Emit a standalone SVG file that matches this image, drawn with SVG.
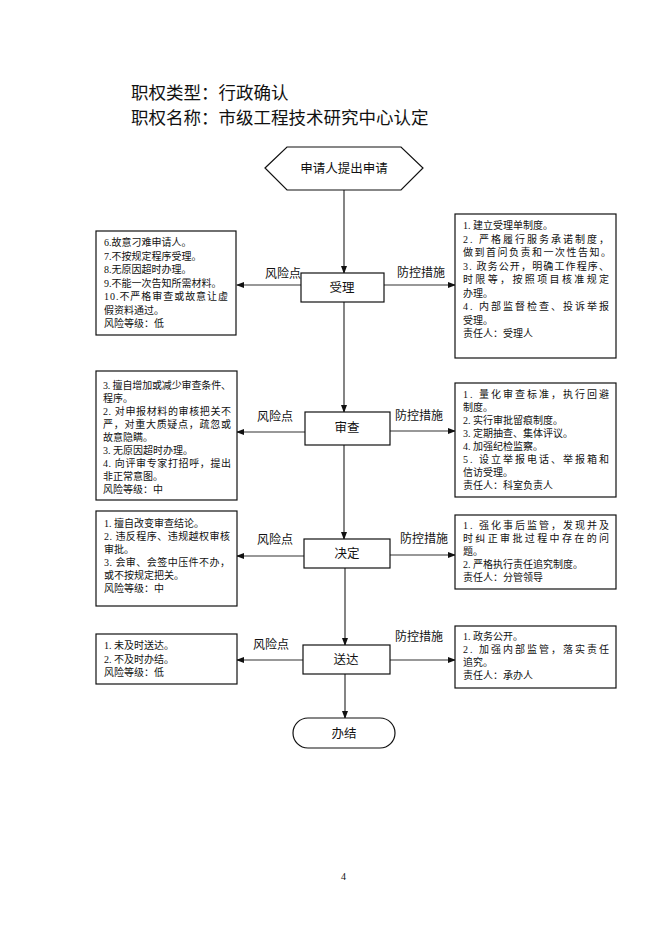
<svg xmlns="http://www.w3.org/2000/svg" width="662" height="936" viewBox="0 0 662 936">
<defs>
<marker id="ah" markerWidth="8" markerHeight="6" refX="7" refY="3" orient="auto" markerUnits="userSpaceOnUse">
<path d="M0,0 L8,3 L0,6 Z" fill="#111"/>
</marker>
<style>
.t{font-family:"Liberation Serif","Noto Sans CJK SC",serif;fill:#111}
.title{font-size:17.5px}
.lbl{font-size:12px}
.node{font-size:12.5px;text-anchor:middle}
.bx{font-size:10px}
.shape{fill:#fff;stroke:#111;stroke-width:1.2}
.ln{stroke:#333;stroke-width:1.2;fill:none}
</style>
</defs>
<rect width="662" height="936" fill="#fff"/>
<text class="t title" x="131" y="99">职权类型：行政确认</text>
<text class="t title" x="131" y="124">职权名称：市级工程技术研究中心认定</text>

<g id="connectors">
<line class="ln" x1="344" y1="190" x2="344" y2="273" marker-end="url(#ah)"/>
<line class="ln" x1="301" y1="285" x2="237" y2="285" marker-end="url(#ah)"/>
<line class="ln" x1="384" y1="285" x2="455" y2="285" marker-end="url(#ah)"/>
<line class="ln" x1="344" y1="302" x2="344" y2="412" marker-end="url(#ah)"/>
<line class="ln" x1="305" y1="432" x2="237" y2="432" marker-end="url(#ah)"/>
<line class="ln" x1="390" y1="431" x2="455" y2="431" marker-end="url(#ah)"/>
<line class="ln" x1="344" y1="445" x2="344" y2="539" marker-end="url(#ah)"/>
<line class="ln" x1="304" y1="556" x2="237" y2="556" marker-end="url(#ah)"/>
<line class="ln" x1="390" y1="555" x2="455" y2="555" marker-end="url(#ah)"/>
<line class="ln" x1="345" y1="568" x2="345" y2="645" marker-end="url(#ah)"/>
<line class="ln" x1="303" y1="660" x2="237" y2="660" marker-end="url(#ah)"/>
<line class="ln" x1="390" y1="660" x2="455" y2="660" marker-end="url(#ah)"/>
<line class="ln" x1="345" y1="674" x2="345" y2="718" marker-end="url(#ah)"/>
<text class="t lbl" x="265" y="278">风险点</text>
<text class="t lbl" x="397" y="277">防控措施</text>
<text class="t lbl" x="257" y="421">风险点</text>
<text class="t lbl" x="395" y="420">防控措施</text>
<text class="t lbl" x="257" y="544">风险点</text>
<text class="t lbl" x="400" y="543">防控措施</text>
<text class="t lbl" x="253" y="649">风险点</text>
<text class="t lbl" x="395" y="641">防控措施</text>
</g>

<g id="start">
<polygon class="shape" points="265,168 287,147 401,147 423,168 401,190 287,190"/>
<text class="t node" x="344" y="173">申请人提出申请</text>
</g>

<g id="accept">
<rect class="shape" x="301" y="273" width="83" height="29"/>
<text class="t node" x="342" y="292">受理</text>
</g>
<g id="review">
<rect class="shape" x="305" y="412" width="85" height="33"/>
<text class="t node" x="347" y="432">审查</text>
</g>
<g id="decide">
<rect class="shape" x="304" y="539" width="86" height="29"/>
<text class="t node" x="347" y="558">决定</text>
</g>
<g id="deliver">
<rect class="shape" x="303" y="645" width="87" height="29"/>
<text class="t node" x="346" y="664">送达</text>
</g>
<g id="finish">
<rect class="shape" x="293" y="718" width="102" height="30" rx="15" ry="15"/>
<text class="t node" x="344" y="738">办结</text>
</g>

<g id="risk1">
<rect class="shape" x="96" y="231" width="140" height="104"/>
<text class="t bx" x="104" y="246">6.故意刁难申请人。</text>
<text class="t bx" x="104" y="259.5">7.不按规定程序受理。</text>
<text class="t bx" x="104" y="273">8.无原因超时办理。</text>
<text class="t bx" x="104" y="286.5">9.不能一次告知所需材料。</text>
<text class="t bx" x="104" y="300" textLength="124" lengthAdjust="spacing">10.不严格审查或故意让虚</text>
<text class="t bx" x="104" y="313.5">假资料通过。</text>
<text class="t bx" x="104" y="327">风险等级：低</text>
</g>

<g id="control1">
<rect class="shape" x="455" y="214" width="161" height="144"/>
<text class="t bx" x="463" y="229">1. 建立受理单制度。</text>
<text class="t bx" x="463" y="242.5" textLength="146" lengthAdjust="spacing">2. 严格履行服务承诺制度，</text>
<text class="t bx" x="463" y="256" textLength="148" lengthAdjust="spacing">做到首问负责和一次性告知。</text>
<text class="t bx" x="463" y="269.5" textLength="146" lengthAdjust="spacing">3. 政务公开，明确工作程序、</text>
<text class="t bx" x="463" y="283" textLength="146" lengthAdjust="spacing">时限等，按照项目核准规定</text>
<text class="t bx" x="463" y="296.5">办理。</text>
<text class="t bx" x="463" y="310" textLength="146" lengthAdjust="spacing">4. 内部监督检查、投诉举报</text>
<text class="t bx" x="463" y="323.5">受理。</text>
<text class="t bx" x="463" y="337">责任人：受理人</text>
</g>

<g id="risk2">
<rect class="shape" x="96" y="371" width="141" height="129"/>
<text class="t bx" x="103" y="389" textLength="128" lengthAdjust="spacing">3. 擅自增加或减少审查条件、</text>
<text class="t bx" x="103" y="402">程序。</text>
<text class="t bx" x="103" y="415" textLength="128" lengthAdjust="spacing">2. 对申报材料的审核把关不</text>
<text class="t bx" x="103" y="428" textLength="128" lengthAdjust="spacing">严，对重大质疑点，疏忽或</text>
<text class="t bx" x="103" y="441">故意隐瞒。</text>
<text class="t bx" x="103" y="454">3. 无原因超时办理。</text>
<text class="t bx" x="103" y="467" textLength="128" lengthAdjust="spacing">4. 向评审专家打招呼，提出</text>
<text class="t bx" x="103" y="480">非正常意图。</text>
<text class="t bx" x="103" y="493">风险等级：中</text>
</g>

<g id="control2">
<rect class="shape" x="455" y="383" width="161" height="114"/>
<text class="t bx" x="463" y="398" textLength="146" lengthAdjust="spacing">1. 量化审查标准，执行回避</text>
<text class="t bx" x="463" y="411">制度。</text>
<text class="t bx" x="463" y="424">2. 实行审批留痕制度。</text>
<text class="t bx" x="463" y="437">3. 定期抽查、集体评议。</text>
<text class="t bx" x="463" y="450">4. 加强纪检监察。</text>
<text class="t bx" x="463" y="463" textLength="146" lengthAdjust="spacing">5. 设立举报电话、举报箱和</text>
<text class="t bx" x="463" y="476">信访受理。</text>
<text class="t bx" x="463" y="489">责任人：科室负责人</text>
</g>

<g id="risk3">
<rect class="shape" x="96" y="511" width="141" height="95"/>
<text class="t bx" x="104" y="527">1. 擅自改变审查结论。</text>
<text class="t bx" x="104" y="540" textLength="126" lengthAdjust="spacing">2. 违反程序、违规越权审核</text>
<text class="t bx" x="104" y="553">审批。</text>
<text class="t bx" x="104" y="566" textLength="126" lengthAdjust="spacing">3. 会审、会签中压件不办，</text>
<text class="t bx" x="104" y="579">或不按规定把关。</text>
<text class="t bx" x="104" y="592">风险等级：中</text>
</g>

<g id="control3">
<rect class="shape" x="455" y="515" width="161" height="74"/>
<text class="t bx" x="463" y="529" textLength="146" lengthAdjust="spacing">1. 强化事后监管，发现并及</text>
<text class="t bx" x="463" y="542" textLength="146" lengthAdjust="spacing">时纠正审批过程中存在的问</text>
<text class="t bx" x="463" y="555">题。</text>
<text class="t bx" x="463" y="568">2. 严格执行责任追究制度。</text>
<text class="t bx" x="463" y="581">责任人：分管领导</text>
</g>

<g id="risk4">
<rect class="shape" x="96" y="634" width="141" height="50"/>
<text class="t bx" x="104" y="649">1. 未及时送达。</text>
<text class="t bx" x="104" y="662.5">2. 不及时办结。</text>
<text class="t bx" x="104" y="676">风险等级：低</text>
</g>

<g id="control4">
<rect class="shape" x="455" y="626" width="161" height="62"/>
<text class="t bx" x="463" y="640">1. 政务公开。</text>
<text class="t bx" x="463" y="653" textLength="146" lengthAdjust="spacing">2. 加强内部监管，落实责任</text>
<text class="t bx" x="463" y="666">追究。</text>
<text class="t bx" x="463" y="679">责任人：承办人</text>
</g>

<text class="t" x="341" y="880" font-size="10">4</text>
</svg>
